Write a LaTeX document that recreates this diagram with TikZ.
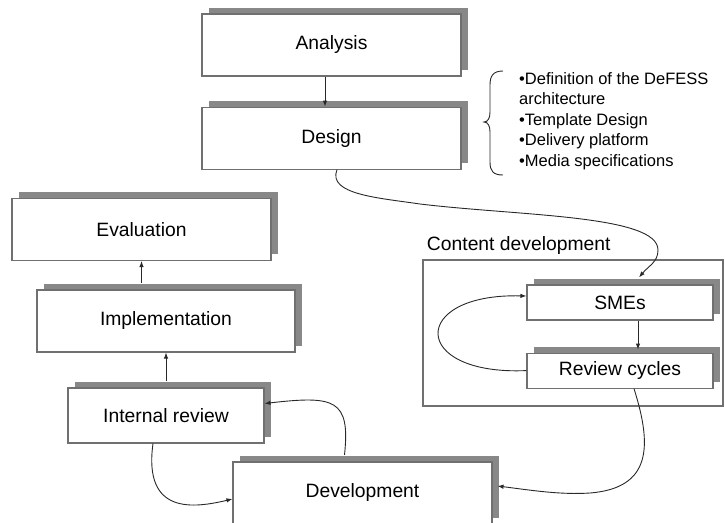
\documentclass[tikz,border=0pt]{standalone}
\usepackage{fontspec}
\setmainfont{Liberation Sans}
\usetikzlibrary{arrows.meta, positioning, shadows}
\definecolor{boxline}{RGB}{112,112,112}
\definecolor{shadowgray}{RGB}{136,136,136}
\definecolor{linkcolor}{RGB}{40,40,40}

\begin{document}
\begin{tikzpicture}[
  x=1pt, y=-1pt,
  node distance=30pt,
  block/.style={rectangle, draw=boxline, line width=1.1pt, fill=white,
    minimum width=259pt, minimum height=62pt, align=center,
    font=\fontsize{19.3}{23}\selectfont,
    drop shadow={shadow xshift=6.5pt, shadow yshift=6.5pt,
      fill=shadowgray, opacity=1}},
  frame/.style={rectangle, draw=boxline, line width=1.1pt,
    minimum width=300pt, minimum height=146pt},
  notes/.style={align=left, inner sep=0pt,
    font=\fontsize{16.5}{20.5}\selectfont},
  arrow/.style={-{Latex[length=6pt, width=4.5pt]}, line width=0.9pt,
    color=linkcolor},
  curly/.style={line width=0.9pt, color=linkcolor}
]
  \useasboundingbox (0,0) rectangle (725,522);

  % content development frame
  \node[frame] (content) at (573,333) {};
  \node[anchor=base west, font=\fontsize{19.3}{23}\selectfont]
    (contenttitle) at ([xshift=1pt, yshift=9pt]content.north west) {Content development};

  \node[block] (analysis) at (331.5,45) {Analysis};
  \node[block, below=of analysis] (design) {Design};
  \node[block] (evaluation) at (141.5,229.5) {Evaluation};
  \node[block, minimum width=258pt] (implementation) at (166,321) {Implementation};
  \node[block, minimum width=196pt, minimum height=55pt] (intreview) at (166,415.5) {Internal review};
  \node[block] (development) at (362.5,493) {Development};
  \node[block, minimum width=186pt, minimum height=35pt] (smes) at (620,302.5) {SMEs};
  \node[block, minimum width=186pt, minimum height=35pt, below=32pt of smes] (cycles) {Review cycles};

  \node[notes, anchor=north west] (designnotes) at (519,72)
    {\textbullet Definition of the DeFESS\\architecture\\\textbullet Template Design\\
     \textbullet Delivery platform\\\textbullet Media specifications};
  \draw[curly] (503,71) .. controls (493,71) and (490,76) .. (490,85) -- (490,112)
    .. controls (490,118) and (488,122) .. (484,122)
    .. controls (488,122) and (490,126) .. (490,132) -- (490,162)
    .. controls (490,171) and (493,175) .. (503,175);

  \draw[arrow] ([xshift=-6.5pt]analysis.south) -- ([xshift=-6.5pt]design.north);
  \draw[arrow] ([xshift=5.5pt]design.south) .. controls +(-10,25) and +(-40,-6) .. (420,204)
    .. controls +(100,12) and +(0,-35) .. (658,250)
    .. controls +(0,12) and +(10,-12) .. ([xshift=19pt, yshift=7pt]smes.north);
  \draw[arrow] ([xshift=18pt]smes.south) -- ([xshift=18pt, yshift=3pt]cycles.north);
  \draw[arrow] (cycles.west) .. controls +(-117,5) and +(-117,-3) .. ([yshift=6.5pt]smes.west);
  \draw[arrow] ([xshift=14pt]cycles.south) .. controls +(18,57) and +(62,-5) .. (590,493)
    .. controls +(-30,2) and +(32,4) .. ([xshift=5pt, yshift=7pt]development.east);
  \draw[arrow] ([xshift=-18pt, yshift=6.5pt]development.north) .. controls +(6,-56) and +(70,-8) .. ([yshift=12pt]intreview.east);
  \draw[arrow] ([xshift=-13pt]intreview.south) .. controls +(-10,72) and +(-38,9) .. ([yshift=-6pt]development.west);
  \draw[arrow] ([yshift=6pt]intreview.north) -- (implementation.south);
  \draw[arrow] ([yshift=6.5pt]implementation.north -| evaluation.south) -- (evaluation.south);
\end{tikzpicture}
\end{document}
